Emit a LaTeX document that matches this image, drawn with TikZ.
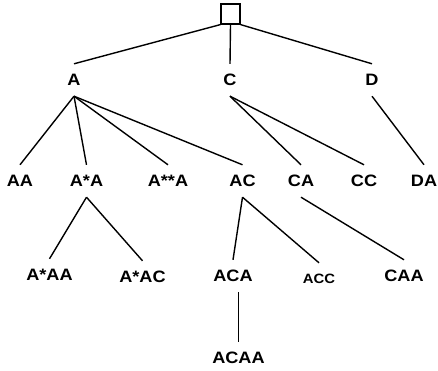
\documentclass[tikz,border=0pt]{standalone}
\usepackage{fontspec}
\newfontfamily\lblfont[FakeStretch=1.1]{Liberation Sans Bold}
\tikzset{
  lbl/.style={inner sep=0pt, minimum height=32pt, font=\lblfont\fontsize{16.5}{19}\selectfont},
  smalllbl/.style={lbl, font=\lblfont\fontsize{13.5}{16}\selectfont},
  edge/.style={draw=black, line width=1.4pt},
  rootbox/.style={draw=black, line width=1.2pt, minimum width=19pt, minimum height=20pt, inner sep=0pt}
}
\begin{document}
\begin{tikzpicture}[x=1pt, y=-1pt]
  \useasboundingbox[fill=white] (0,0) rectangle (438,371);

  % root and first level
  \node[rootbox] (root) at (230.5,14) {};
  \node[lbl] (A) at (74,80) {A};
  \node[lbl] (C) at (230,80) {C};
  \node[lbl] (D) at (372,80) {D};

  % second level
  \node[lbl] (AA)   at (20,181)    {AA};
  \node[lbl] (AsA)  at (86.5,181)  {A*A};
  \node[lbl] (AssA) at (168,181)   {A**A};
  \node[lbl] (AC)   at (242.5,181) {AC};
  \node[lbl] (CA)   at (301,181)   {CA};
  \node[lbl] (CC)   at (364,181)   {CC};
  \node[lbl] (DA)   at (424,181)   {DA};

  % third level
  \node[lbl] (AsAA) at (49.5,275)  {A*AA};
  \node[lbl] (AsAC) at (142.5,277) {A*AC};
  \node[lbl] (ACA)  at (233,276)   {ACA};
  \node[smalllbl] (ACC) at (319,279) {ACC};
  \node[lbl] (CAA)  at (404,276)   {CAA};

  % fourth level
  \node[lbl] (ACAA) at (238.5,358) {ACAA};

  % branches
  \draw[edge] (root.south west) -- (A.north);
  \draw[edge] (root.south) -- (C.north);
  \draw[edge] (root.south east) -- (D.north);

  \draw[edge] (A.south) -- (AA.north);
  \draw[edge] (A.south) -- (AsA.north);
  \draw[edge] (A.south) -- (AssA.north);
  \draw[edge] (A.south) -- (AC.north);
  \draw[edge] (C.south) -- (CA.north);
  \draw[edge] (C.south) -- (CC.north);
  \draw[edge] (D.south) -- (DA.north);

  \draw[edge] (AsA.south) -- (AsAA.north);
  \draw[edge] (AsA.south) -- (AsAC.north);
  \draw[edge] (AC.south) -- (ACA.north);
  \draw[edge] (AC.south) -- (ACC.north);
  \draw[edge] (CA.south) -- (CAA.north);

  \draw[edge] (ACAA.north |- ACA.south) -- (ACAA.north);
\end{tikzpicture}
\end{document}
